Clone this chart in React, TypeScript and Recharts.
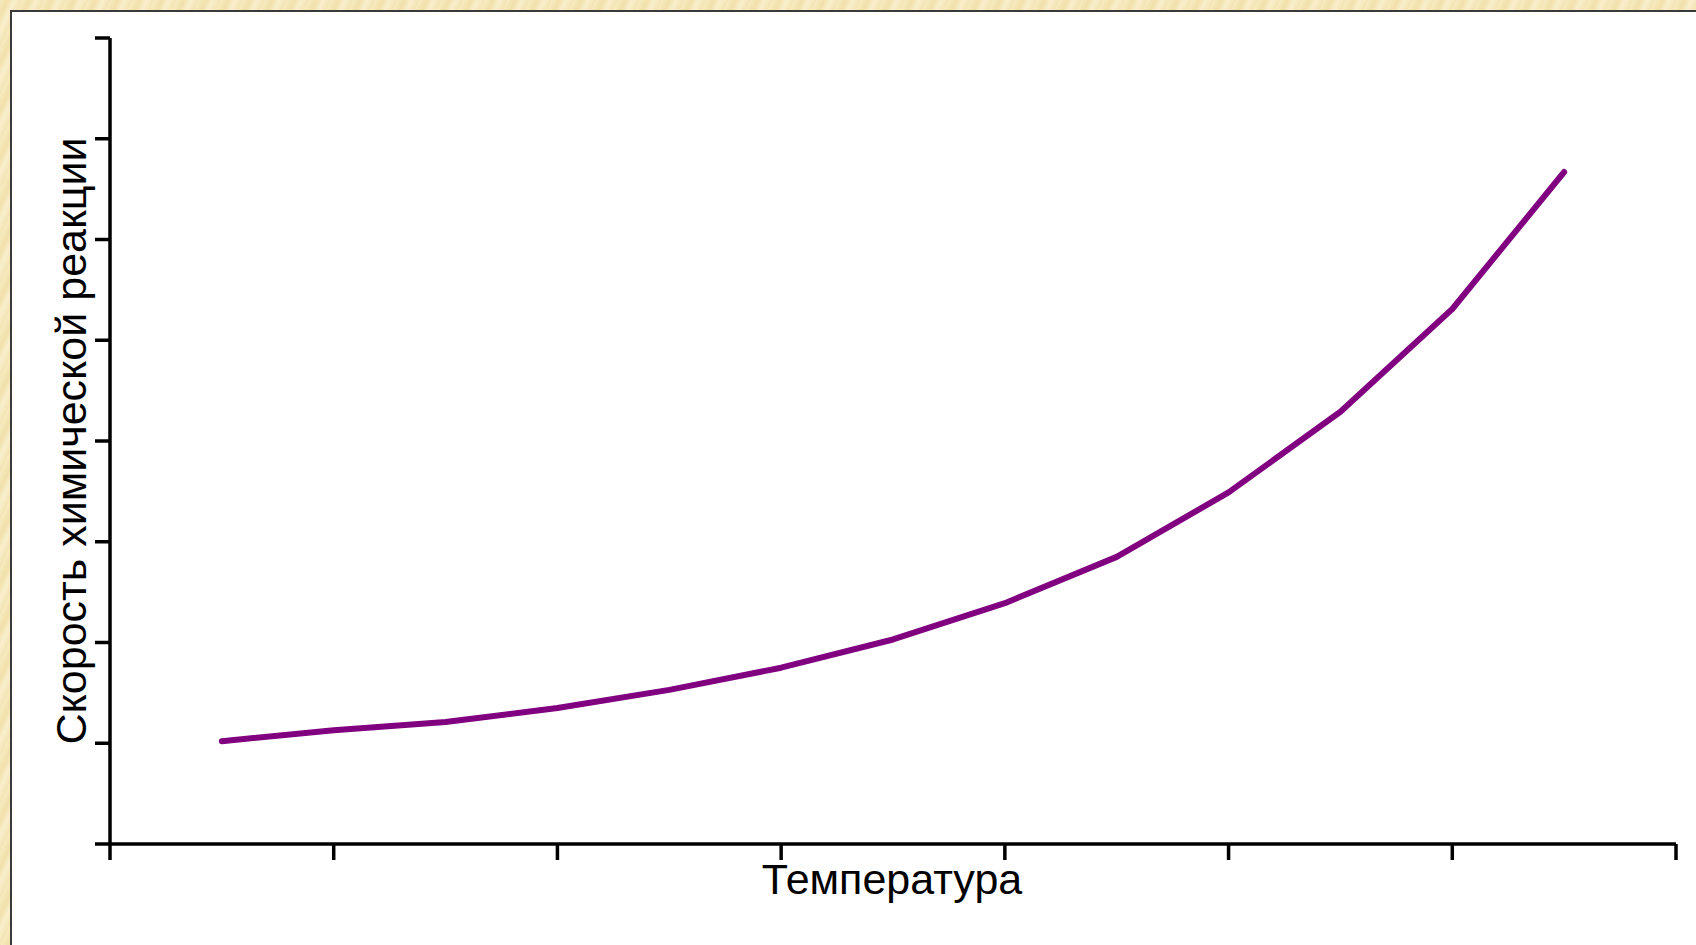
import { Line, LineChart, XAxis, YAxis, Label } from 'recharts'

// positions along the temperature axis (half-tick steps) and reaction rate
const temperature = [1, 2, 3, 4, 5, 6, 7, 8, 9, 10, 11, 12, 13]
const rate = [1.02, 1.13, 1.21, 1.35, 1.53, 1.75, 2.03, 2.39, 2.85, 3.49, 4.29, 5.31, 6.67]
const xTicks = [0, 2, 4, 6, 8, 10, 12, 14]
const yTicks = [0, 1, 2, 3, 4, 5, 6, 7, 8]

const xLabel = 'Температура'
const yLabel = 'Скорость химической реакции'

const data = temperature.map((t, i) => ({ t, rate: rate[i] }))

const font = '"Liberation Sans", Arial, sans-serif'
const axisStyle = { stroke: '#000', strokeWidth: 3.5 }

export default function App() {
  return (
    <div
      style={{
        position: 'absolute',
        left: 0,
        top: 0,
        width: 1696,
        height: 945,
        overflow: 'hidden',
        background:
          'repeating-linear-gradient(115deg, #f7ebc0 0px, #f1e0ab 7px, #f9efcc 13px, #f3e4b4 20px)',
      }}
    >
      <div
        style={{
          position: 'absolute',
          left: 10,
          top: 10,
          right: -4,
          bottom: -4,
          background: '#fff',
          borderTop: '2px solid #3a3a3a',
          borderLeft: '2px solid #3a3a3a',
        }}
      />
      <div style={{ position: 'absolute', left: 0, top: 0 }}>
        <LineChart
          width={1696}
          height={945}
          data={data}
          margin={{ top: 38, right: 20, left: 50, bottom: 41 }}
        >
          <XAxis
            dataKey="t"
            type="number"
            domain={[0, 14]}
            ticks={xTicks}
            tickFormatter={() => ''}
            tickSize={16}
            height={60}
            axisLine={axisStyle}
            tickLine={axisStyle}
          >
            <Label
              content={() => (
                <text
                  x={892}
                  y={894}
                  textAnchor="middle"
                  fontFamily={font}
                  fontSize={43}
                  fill="#000"
                >
                  {xLabel}
                </text>
              )}
            />
          </XAxis>
          <YAxis
            type="number"
            domain={[0, 8]}
            ticks={yTicks}
            tickFormatter={() => ''}
            tickSize={15}
            width={60}
            axisLine={axisStyle}
            tickLine={axisStyle}
          >
            <Label
              content={() => (
                <text
                  x={86}
                  y={441}
                  transform="rotate(-90 86 441)"
                  textAnchor="middle"
                  fontFamily={font}
                  fontSize={43}
                  fill="#000"
                >
                  {yLabel}
                </text>
              )}
            />
          </YAxis>
          <Line
            type="linear"
            dataKey="rate"
            stroke="#800080"
            strokeWidth={6}
            strokeLinecap="round"
            strokeLinejoin="round"
            dot={false}
            activeDot={false}
            isAnimationActive={false}
          />
        </LineChart>
      </div>
    </div>
  )
}
